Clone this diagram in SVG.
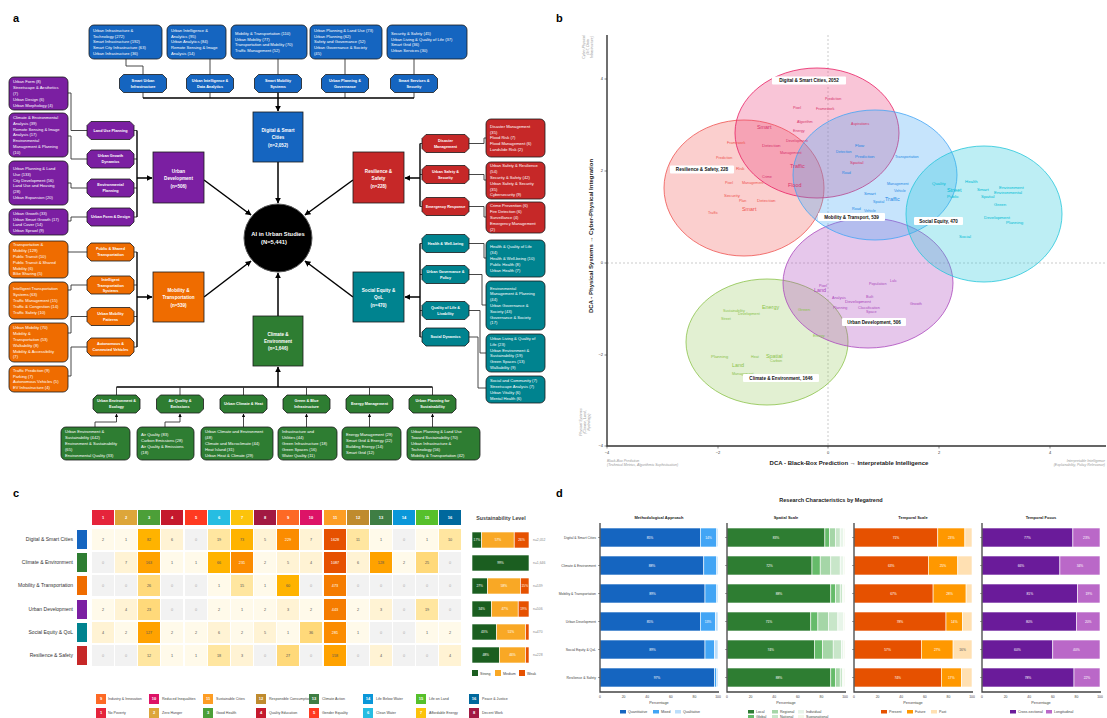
<svg xmlns="http://www.w3.org/2000/svg" width="1107" height="718" viewBox="0 0 1107 718">
<style>
text{font-family:"Liberation Sans",Arial,sans-serif}
.pl{font-size:11px;font-weight:bold;fill:#000}
.bt{font-size:4.1px;fill:#fff}
.ot{font-size:3.8px;font-weight:bold;fill:#fff;text-anchor:middle}
.mt{font-size:4.6px;font-weight:bold;fill:#fff;text-anchor:middle}
.bx{stroke:#1a1a1a;stroke-width:0.8}
.cb{fill:#1565C0}.cp{fill:#7B1FA2}.co{fill:#EF6C00}.cr{fill:#C62828}.ct{fill:#00838F}.cg{fill:#2E7D32}
.cn{fill:none;stroke:#333;stroke-width:0.9}
.bus{fill:none;stroke:#000;stroke-width:1.4}
.ar{fill:none;stroke:#000;stroke-width:1.5;marker-end:url(#ah)}
.as{fill:none;stroke:#333;stroke-width:0.9;marker-end:url(#ah)}
.tk{font-size:4px;fill:#333}
.an{font-size:3.5px;fill:#999;font-style:italic}
.lb{font-size:4.6px;font-weight:bold;fill:#111}
.w1{font-size:3.7px}.w2{font-size:4.4px}.w3{font-size:5.4px}
.dg{fill:#D6336C}.rs{fill:#EF5350}.mb{fill:#1E88E5}.se{fill:#00BCD4}.ud{fill:#AB47BC}.ce{fill:#8BC34A}
.k0{fill:#F2F2F2}.k1{fill:#FFFAEA}.k2{fill:#FFF3D4}.k3{fill:#FFE6A0}.k4{fill:#FFD97A}.k5{fill:#FFB300}.k6{fill:#FFA200}.k7{fill:#FB8C00}.k8{fill:#F57C00}.k9{fill:#E65100}
.cell text{font-size:3.8px;fill:#555;text-anchor:middle}
.cell text.w{fill:#fff}
.cell text.z{fill:#aaa}
.rl{font-size:5px;fill:#333;text-anchor:end}
.hd{font-size:4px;font-weight:bold;fill:#fff;text-anchor:middle}
.pc{font-size:3.3px;fill:#fff;text-anchor:middle}
.lg{font-size:3.6px;fill:#444}
.sb{stroke:#fff;stroke-width:0.6}
.ax{stroke:#444;stroke-width:1.3;fill:none}
.dt{font-size:3.4px;fill:#444;text-anchor:middle}
.st{font-size:4px;font-weight:bold;fill:#222;text-anchor:middle}
.dl{font-size:3.4px;fill:#444;text-anchor:end}
</style>
<defs>
<marker id="ah" viewBox="0 0 10 10" refX="9" refY="5" markerWidth="4" markerHeight="4" orient="auto-start-reverse"><path d="M0,0 L10,5 L0,10 z" fill="#000"/></marker>
<polygon id="oct" points="4,0 43,0 47,4 47,14 43,18 4,18 0,14 0,4"/>
</defs>
<rect width="1107" height="718" fill="#fff"/>

<!-- panel labels -->
<text class="pl" x="13" y="22">a</text>
<text class="pl" x="556" y="22">b</text>
<text class="pl" x="13" y="497">c</text>
<text class="pl" x="556" y="497">d</text>

<!-- ================= PANEL A ================= -->
<g id="connectors">
<!-- top -->
<path class="cn" d="M126,59 V66 H143 V74.5 M210,59 V74.5 M278,59 V74.5 M345,59 V74.5 M414,59 V74.5"/>
<path class="cn" d="M143,92.5 V98 M210,92.5 V98 M345,92.5 V98 M414,92.5 V98"/>
<path class="bus" d="M143,98 H414"/>
<path class="ar" d="M278,92.5 V111"/>
<!-- purple -->
<path class="cn" d="M68,93 H71 V130.5 H87 M68,136 H71 V159 H87 M68,183 H71 V188 H87 M68,221 H71 V217 H87"/>
<path class="cn" d="M134,130.5 H137 M134,159 H137 M134,188 H137 M134,217 H137"/>
<path class="bus" d="M137,130.5 V217"/>
<path class="ar" d="M137,178 H152"/>
<!-- orange -->
<path class="cn" d="M68,252 H87 M68,290 H71 V285 H87 M68,333 H71 V316.5 H87 M68,376 H71 V347 H87"/>
<path class="cn" d="M134,252 H137 M134,285 H137 M134,316.5 H137 M134,347 H137"/>
<path class="bus" d="M137,252 V347"/>
<path class="ar" d="M137,297 H152"/>
<!-- red -->
<path class="cn" d="M469,143.5 H484 V138 H486 M469,174.5 H484 V180 H486 M469,206.5 H484 V217 H486"/>
<path class="cn" d="M422,143.5 H420 M422,174.5 H420 M422,206.5 H420"/>
<path class="bus" d="M420,143.5 V206.5"/>
<path class="ar" d="M420,178 H405"/>
<!-- teal -->
<path class="cn" d="M469,243.5 H484 V258 H486 M469,274.5 H482 V305 H486 M469,310.5 H480 V353 H486 M469,337 H478 V388 H486"/>
<path class="cn" d="M422,243.5 H420 M422,274.5 H420 M422,310.5 H420 M422,337 H420"/>
<path class="bus" d="M420,243.5 V337"/>
<path class="ar" d="M420,297 H405"/>
<!-- green -->
<path class="bus" d="M116.5,387 H432.5"/>
<path class="cn" d="M116.5,395 V387 M180,395 V387 M243.5,395 V387 M306.5,395 V387 M369.5,395 V387 M432.5,395 V387"/>
<path class="ar" d="M278,387 V367"/>
<path class="as" d="M95,427 V422 H116.5 V414"/>
<path class="as" d="M165,427 V422 H180 V414"/>
<path class="as" d="M243.5,427 V414"/>
<path class="as" d="M306.5,427 V414"/>
<path class="as" d="M369.5,427 V414"/>
<path class="as" d="M432.5,427 V414"/>
<!-- main to hub -->
<path class="ar" d="M278,162 V203"/>
<path class="ar" d="M278,316 V273"/>
<path class="ar" d="M204,180 L251,215"/>
<path class="ar" d="M353,180 L305,215"/>
<path class="ar" d="M204,297 L251,261"/>
<path class="ar" d="M353,297 L305,261"/>
</g>

<!-- hub -->
<g id="hub">
<circle cx="278" cy="238" r="34" fill="#000" stroke="#555" stroke-width="1"/>
<text x="278" y="236.3" text-anchor="middle" font-size="5.8" font-weight="bold" fill="#fff">AI in Urban Studies</text>
<text x="274" y="243.5" text-anchor="middle" font-size="5.8" font-weight="bold" fill="#fff">(N=5,441)</text>
</g>

<!-- main category boxes -->
<g id="m-digital"><rect class="bx cb" x="253" y="112" width="50" height="50"/>
<text class="mt" x="278" y="132">Digital &amp; Smart</text><text class="mt" x="278" y="139">Cities</text><text class="mt" x="278" y="146.5">(n=2,052)</text></g>
<g id="m-urban"><rect class="bx cp" x="153" y="152" width="51" height="51"/>
<text class="mt" x="178.5" y="172.5">Urban</text><text class="mt" x="178.5" y="180">Development</text><text class="mt" x="178.5" y="187.5">(n=506)</text></g>
<g id="m-resil"><rect class="bx cr" x="353" y="152" width="51" height="51"/>
<text class="mt" x="378.5" y="172.5">Resilience &amp;</text><text class="mt" x="378.5" y="180">Safety</text><text class="mt" x="378.5" y="187.5">(n=228)</text></g>
<g id="m-mob"><rect class="bx co" x="153" y="272" width="51" height="50"/>
<text class="mt" x="178.5" y="291.5">Mobility &amp;</text><text class="mt" x="178.5" y="299">Transportation</text><text class="mt" x="178.5" y="306.5">(n=539)</text></g>
<g id="m-social"><rect class="bx ct" x="353" y="272" width="51" height="50"/>
<text class="mt" x="378.5" y="291.5">Social Equity &amp;</text><text class="mt" x="378.5" y="299">QoL</text><text class="mt" x="378.5" y="306.5">(n=470)</text></g>
<g id="m-climate"><rect class="bx cg" x="253" y="316" width="50" height="50"/>
<text class="mt" x="278" y="335.5">Climate &amp;</text><text class="mt" x="278" y="342.5">Environment</text><text class="mt" x="278" y="350">(n=1,646)</text></g>

<!-- top blue boxes -->
<g id="t-box1"><rect class="bx cb" x="89" y="25" width="73" height="34" rx="5"/>
<text class="bt" x="93" y="31.8">Urban Infrastructure &amp;<tspan x="93" dy="5.8">Technology (272)</tspan><tspan x="93" dy="5.8">Smart Infrastructure (192)</tspan><tspan x="93" dy="5.8">Smart City Infrastructure (63)</tspan><tspan x="93" dy="5.8">Urban Infrastructure (36)</tspan></text></g>
<g id="t-box2"><rect class="bx cb" x="167" y="25" width="59" height="34" rx="5"/>
<text class="bt" x="171" y="31.8">Urban Intelligence &amp;<tspan x="171" dy="5.8">Analytics (95)</tspan><tspan x="171" dy="5.8">Urban Analytics (84)</tspan><tspan x="171" dy="5.8">Remote Sensing &amp; Image</tspan><tspan x="171" dy="5.8">Analysis (14)</tspan></text></g>
<g id="t-box3"><rect class="bx cb" x="231" y="25" width="76" height="34" rx="5"/>
<text class="bt" x="235" y="34.7">Mobility &amp; Transportation (110)<tspan x="235" dy="5.8">Urban Mobility (77)</tspan><tspan x="235" dy="5.8">Transportation and Mobility (70)</tspan><tspan x="235" dy="5.8">Traffic Management (52)</tspan></text></g>
<g id="t-box4"><rect class="bx cb" x="310" y="25" width="72" height="34" rx="5"/>
<text class="bt" x="314" y="31.8">Urban Planning &amp; Land Use (73)<tspan x="314" dy="5.8">Urban Planning (62)</tspan><tspan x="314" dy="5.8">Safety and Governance (52)</tspan><tspan x="314" dy="5.8">Urban Governance &amp; Society</tspan><tspan x="314" dy="5.8">(45)</tspan></text></g>
<g id="t-box5"><rect class="bx cb" x="387" y="25" width="80" height="34" rx="5"/>
<text class="bt" x="391" y="34.7">Security &amp; Safety (45)<tspan x="391" dy="5.8">Urban Living &amp; Quality of Life (37)</tspan><tspan x="391" dy="5.8">Smart Grid (36)</tspan><tspan x="391" dy="5.8">Urban Services (30)</tspan></text></g>

<!-- top octagons -->
<g id="t-oct1"><use href="#oct" class="bx cb" x="119.5" y="74.5"/><text class="ot" x="143" y="81.9">Smart Urban<tspan x="143" dy="5.8">Infrastructure</tspan></text></g>
<g id="t-oct2"><use href="#oct" class="bx cb" x="186.5" y="74.5"/><text class="ot" x="210" y="81.9">Urban Intelligence &amp;<tspan x="210" dy="5.8">Data Analytics</tspan></text></g>
<g id="t-oct3"><use href="#oct" class="bx cb" x="254.5" y="74.5"/><text class="ot" x="278" y="81.9">Smart Mobility<tspan x="278" dy="5.8">Systems</tspan></text></g>
<g id="t-oct4"><use href="#oct" class="bx cb" x="321.5" y="74.5"/><text class="ot" x="345" y="81.9">Urban Planning &amp;<tspan x="345" dy="5.8">Governance</tspan></text></g>
<g id="t-oct5"><use href="#oct" class="bx cb" x="390.5" y="74.5"/><text class="ot" x="414" y="81.9">Smart Services &amp;<tspan x="414" dy="5.8">Security</tspan></text></g>

<!-- purple boxes -->
<g id="p-box1"><rect class="bx cp" x="9" y="77" width="59" height="33" rx="5"/>
<text class="bt" x="13" y="83.3">Urban Form (8)<tspan x="13" dy="5.8">Streetscape &amp; Aesthetics</tspan><tspan x="13" dy="5.8">(7)</tspan><tspan x="13" dy="5.8">Urban Design (6)</tspan><tspan x="13" dy="5.8">Urban Morphology (4)</tspan></text></g>
<g id="p-box2"><rect class="bx cp" x="9" y="113" width="59" height="44" rx="5"/>
<text class="bt" x="13" y="119">Climate &amp; Environmental<tspan x="13" dy="5.8">Analysis (39)</tspan><tspan x="13" dy="5.8">Remote Sensing &amp; Image</tspan><tspan x="13" dy="5.8">Analysis (17)</tspan><tspan x="13" dy="5.8">Environmental</tspan><tspan x="13" dy="5.8">Management &amp; Planning</tspan><tspan x="13" dy="5.8">(10)</tspan></text></g>
<g id="p-box3"><rect class="bx cp" x="9" y="161" width="59" height="44" rx="5"/>
<text class="bt" x="13" y="169.9">Urban Planning &amp; Land<tspan x="13" dy="5.8">Use (133)</tspan><tspan x="13" dy="5.8">City Development (56)</tspan><tspan x="13" dy="5.8">Land Use and Housing</tspan><tspan x="13" dy="5.8">(28)</tspan><tspan x="13" dy="5.8">Urban Expansion (20)</tspan></text></g>
<g id="p-box4"><rect class="bx cp" x="9" y="209" width="59" height="26" rx="5"/>
<text class="bt" x="13" y="214.7">Urban Growth (33)<tspan x="13" dy="5.8">Urban Smart Growth (17)</tspan><tspan x="13" dy="5.8">Land Cover (14)</tspan><tspan x="13" dy="5.8">Urban Sprawl (9)</tspan></text></g>
<g id="p-oct1"><use href="#oct" class="bx cp" x="87" y="121.5"/><text class="ot" x="110.5" y="131.9">Land Use Planning</text></g>
<g id="p-oct2"><use href="#oct" class="bx cp" x="87" y="150"/><text class="ot" x="110.5" y="157.4">Urban Growth<tspan x="110.5" dy="5.8">Dynamics</tspan></text></g>
<g id="p-oct3"><use href="#oct" class="bx cp" x="87" y="179"/><text class="ot" x="110.5" y="186.4">Environmental<tspan x="110.5" dy="5.8">Planning</tspan></text></g>
<g id="p-oct4"><use href="#oct" class="bx cp" x="87" y="208"/><text class="ot" x="110.5" y="218.4">Urban Form &amp; Design</text></g>

<!-- orange boxes -->
<g id="o-box1"><rect class="bx co" x="9" y="241" width="59" height="37" rx="5"/>
<text class="bt" x="13" y="246.4">Transportation &amp;<tspan x="13" dy="5.8">Mobility (129)</tspan><tspan x="13" dy="5.8">Public Transit (10)</tspan><tspan x="13" dy="5.8">Public Transit &amp; Shared</tspan><tspan x="13" dy="5.8">Mobility (6)</tspan><tspan x="13" dy="5.8">Bike Sharing (5)</tspan></text></g>
<g id="o-box2"><rect class="bx co" x="9" y="282" width="59" height="37" rx="5"/>
<text class="bt" x="13" y="290.3">Intelligent Transportation<tspan x="13" dy="5.8">Systems (63)</tspan><tspan x="13" dy="5.8">Traffic Management (15)</tspan><tspan x="13" dy="5.8">Traffic &amp; Congestion (14)</tspan><tspan x="13" dy="5.8">Traffic Safety (10)</tspan></text></g>
<g id="o-box3"><rect class="bx co" x="9" y="323" width="59" height="39" rx="5"/>
<text class="bt" x="13" y="329.4">Urban Mobility (70)<tspan x="13" dy="5.8">Mobility &amp;</tspan><tspan x="13" dy="5.8">Transportation (53)</tspan><tspan x="13" dy="5.8">Walkability (8)</tspan><tspan x="13" dy="5.8">Mobility &amp; Accessibility</tspan><tspan x="13" dy="5.8">(7)</tspan></text></g>
<g id="o-box4"><rect class="bx co" x="9" y="366" width="59" height="26" rx="5"/>
<text class="bt" x="13" y="371.7">Traffic Prediction (9)<tspan x="13" dy="5.8">Parking (7)</tspan><tspan x="13" dy="5.8">Autonomous Vehicles (5)</tspan><tspan x="13" dy="5.8">EV Infrastructure (4)</tspan></text></g>
<g id="o-oct1"><use href="#oct" class="bx co" x="87" y="243"/><text class="ot" x="110.5" y="250.4">Public &amp; Shared<tspan x="110.5" dy="5.8">Transportation</tspan></text></g>
<g id="o-oct2"><use href="#oct" class="bx co" x="87" y="276"/><text class="ot" x="110.5" y="281.3" font-size="3.6">Intelligent<tspan x="110.5" dy="5.3">Transportation</tspan><tspan x="110.5" dy="5.3">Systems</tspan></text></g>
<g id="o-oct3"><use href="#oct" class="bx co" x="87" y="307.5"/><text class="ot" x="110.5" y="314.9">Urban Mobility<tspan x="110.5" dy="5.8">Patterns</tspan></text></g>
<g id="o-oct4"><use href="#oct" class="bx co" x="87" y="338"/><text class="ot" x="110.5" y="345.4">Autonomous &amp;<tspan x="110.5" dy="5.8">Connected Vehicles</tspan></text></g>

<!-- red -->
<g id="r-oct1"><use href="#oct" class="bx cr" x="422" y="134.5"/><text class="ot" x="445.5" y="141.9">Disaster<tspan x="445.5" dy="5.8">Management</tspan></text></g>
<g id="r-oct2"><use href="#oct" class="bx cr" x="422" y="165.5"/><text class="ot" x="445.5" y="172.9">Urban Safety &amp;<tspan x="445.5" dy="5.8">Security</tspan></text></g>
<g id="r-oct3"><use href="#oct" class="bx cr" x="422" y="197.5"/><text class="ot" x="445.5" y="207.9">Emergency Response</text></g>
<g id="r-box1"><rect class="bx cr" x="486" y="119" width="59" height="38" rx="5"/>
<text class="bt" x="490" y="127.8">Disaster Management<tspan x="490" dy="5.8">(35)</tspan><tspan x="490" dy="5.8">Flood Risk (7)</tspan><tspan x="490" dy="5.8">Flood Management (6)</tspan><tspan x="490" dy="5.8">Landslide Risk (2)</tspan></text></g>
<g id="r-box2"><rect class="bx cr" x="486" y="162" width="59" height="37" rx="5"/>
<text class="bt" x="490" y="167.4">Urban Safety &amp; Resilience<tspan x="490" dy="5.8">(54)</tspan><tspan x="490" dy="5.8">Security &amp; Safety (42)</tspan><tspan x="490" dy="5.8">Urban Safety &amp; Security</tspan><tspan x="490" dy="5.8">(35)</tspan><tspan x="490" dy="5.8">Cybersecurity (9)</tspan></text></g>
<g id="r-box3"><rect class="bx cr" x="486" y="202" width="59" height="31" rx="5"/>
<text class="bt" x="490" y="207.3">Crime Prevention (6)<tspan x="490" dy="5.8">Fire Detection (6)</tspan><tspan x="490" dy="5.8">Surveillance (4)</tspan><tspan x="490" dy="5.8">Emergency Management</tspan><tspan x="490" dy="5.8">(2)</tspan></text></g>

<!-- teal -->
<g id="s-oct1"><use href="#oct" class="bx ct" x="422" y="234.5"/><text class="ot" x="445.5" y="244.9">Health &amp; Well-being</text></g>
<g id="s-oct2"><use href="#oct" class="bx ct" x="422" y="265.5"/><text class="ot" x="445.5" y="272.9">Urban Governance &amp;<tspan x="445.5" dy="5.8">Policy</tspan></text></g>
<g id="s-oct3"><use href="#oct" class="bx ct" x="422" y="301.5"/><text class="ot" x="445.5" y="308.9">Quality of Life &amp;<tspan x="445.5" dy="5.8">Livability</tspan></text></g>
<g id="s-oct4"><use href="#oct" class="bx ct" x="422" y="328"/><text class="ot" x="445.5" y="338.4">Social Dynamics</text></g>
<g id="s-box1"><rect class="bx ct" x="486" y="240" width="59" height="37" rx="5"/>
<text class="bt" x="490" y="248.3">Health &amp; Quality of Life<tspan x="490" dy="5.8">(34)</tspan><tspan x="490" dy="5.8">Health &amp; Well-being (10)</tspan><tspan x="490" dy="5.8">Public Health (8)</tspan><tspan x="490" dy="5.8">Urban Health (7)</tspan></text></g>
<g id="s-box2"><rect class="bx ct" x="486" y="281" width="59" height="49" rx="5"/>
<text class="bt" x="490" y="289.5">Environmental<tspan x="490" dy="5.8">Management &amp; Planning</tspan><tspan x="490" dy="5.8">(44)</tspan><tspan x="490" dy="5.8">Urban Governance &amp;</tspan><tspan x="490" dy="5.8">Society (43)</tspan><tspan x="490" dy="5.8">Governance &amp; Society</tspan><tspan x="490" dy="5.8">(17)</tspan></text></g>
<g id="s-box3"><rect class="bx ct" x="486" y="334" width="59" height="38" rx="5"/>
<text class="bt" x="490" y="339.9">Urban Living &amp; Quality of<tspan x="490" dy="5.8">Life (23)</tspan><tspan x="490" dy="5.8">Urban Environment &amp;</tspan><tspan x="490" dy="5.8">Sustainability (19)</tspan><tspan x="490" dy="5.8">Green Spaces (13)</tspan><tspan x="490" dy="5.8">Walkability (9)</tspan></text></g>
<g id="s-box4"><rect class="bx ct" x="486" y="376" width="59" height="27" rx="5"/>
<text class="bt" x="490" y="382.2">Social and Community (7)<tspan x="490" dy="5.8">Streetscape Analysis (7)</tspan><tspan x="490" dy="5.8">Urban Vitality (6)</tspan><tspan x="490" dy="5.8">Mental Health (6)</tspan></text></g>

<!-- green -->
<g id="g-oct1"><use href="#oct" class="bx cg" x="93" y="395"/><text class="ot" x="116.5" y="402.4">Urban Environment &amp;<tspan x="116.5" dy="5.8">Ecology</tspan></text></g>
<g id="g-oct2"><use href="#oct" class="bx cg" x="156.5" y="395"/><text class="ot" x="180" y="402.4">Air Quality &amp;<tspan x="180" dy="5.8">Emissions</tspan></text></g>
<g id="g-oct3"><use href="#oct" class="bx cg" x="220" y="395"/><text class="ot" x="243.5" y="405.4">Urban Climate &amp; Heat</text></g>
<g id="g-oct4"><use href="#oct" class="bx cg" x="283" y="395"/><text class="ot" x="306.5" y="402.4">Green &amp; Blue<tspan x="306.5" dy="5.8">Infrastructure</tspan></text></g>
<g id="g-oct5"><use href="#oct" class="bx cg" x="346" y="395"/><text class="ot" x="369.5" y="405.4">Energy Management</text></g>
<g id="g-oct6"><use href="#oct" class="bx cg" x="409" y="395"/><text class="ot" x="432.5" y="402.4">Urban Planning for<tspan x="432.5" dy="5.8">Sustainability</tspan></text></g>
<g id="g-box1"><rect class="bx cg" x="61" y="427" width="69" height="33" rx="5"/>
<text class="bt" x="65" y="433.3">Urban Environment &amp;<tspan x="65" dy="5.8">Sustainability (442)</tspan><tspan x="65" dy="5.8">Environment &amp; Sustainability</tspan><tspan x="65" dy="5.8">(65)</tspan><tspan x="65" dy="5.8">Environmental Quality (33)</tspan></text></g>
<g id="g-box2"><rect class="bx cg" x="137" y="427" width="57" height="33" rx="5"/>
<text class="bt" x="141" y="436.2">Air Quality (83)<tspan x="141" dy="5.8">Carbon Emissions (28)</tspan><tspan x="141" dy="5.8">Air Quality &amp; Emissions</tspan><tspan x="141" dy="5.8">(18)</tspan></text></g>
<g id="g-box3"><rect class="bx cg" x="201" y="427" width="72" height="33" rx="5"/>
<text class="bt" x="205" y="433.3">Urban Climate and Environment<tspan x="205" dy="5.8">(48)</tspan><tspan x="205" dy="5.8">Climate and Microclimate (44)</tspan><tspan x="205" dy="5.8">Heat Island (31)</tspan><tspan x="205" dy="5.8">Urban Heat &amp; Climate (29)</tspan></text></g>
<g id="g-box4"><rect class="bx cg" x="278" y="427" width="59" height="33" rx="5"/>
<text class="bt" x="282" y="433.3">Infrastructure and<tspan x="282" dy="5.8">Utilities (44)</tspan><tspan x="282" dy="5.8">Green Infrastructure (18)</tspan><tspan x="282" dy="5.8">Green Spaces (16)</tspan><tspan x="282" dy="5.8">Water Quality (11)</tspan></text></g>
<g id="g-box5"><rect class="bx cg" x="342" y="427" width="59" height="33" rx="5"/>
<text class="bt" x="346" y="436.2">Energy Management (29)<tspan x="346" dy="5.8">Smart Grid &amp; Energy (22)</tspan><tspan x="346" dy="5.8">Building Energy (14)</tspan><tspan x="346" dy="5.8">Smart Grid (12)</tspan></text></g>
<g id="g-box6"><rect class="bx cg" x="407" y="427" width="73" height="33" rx="5"/>
<text class="bt" x="411" y="433.3">Urban Planning &amp; Land Use<tspan x="411" dy="5.8">Toward Sustainability (70)</tspan><tspan x="411" dy="5.8">Urban Infrastructure &amp;</tspan><tspan x="411" dy="5.8">Technology (56)</tspan><tspan x="411" dy="5.8">Mobility &amp; Transportation (42)</tspan></text></g>

<!-- ================= PANEL B ================= -->
<g id="panel-b">
<line x1="828" y1="35" x2="828" y2="446" stroke="#aaa" stroke-width="0.6" stroke-dasharray="2,2"/>
<line x1="607" y1="263" x2="1106" y2="263" stroke="#aaa" stroke-width="0.6" stroke-dasharray="2,2"/>
<ellipse cx="767" cy="342" rx="81" ry="63" fill="#8BC34A" fill-opacity="0.25" stroke="#8BC34A" stroke-width="0.8"/>
<ellipse cx="868" cy="283" rx="85" ry="65" fill="#AB47BC" fill-opacity="0.3" stroke="#AB47BC" stroke-width="0.8"/>
<ellipse cx="744" cy="188" rx="80" ry="68" fill="#EF5350" fill-opacity="0.28" stroke="#EF5350" stroke-width="0.8"/>
<ellipse cx="817" cy="133" rx="82" ry="65" fill="#EC407A" fill-opacity="0.3" stroke="#E91E63" stroke-width="0.8"/>
<ellipse cx="875" cy="175" rx="82" ry="65" fill="#42A5F5" fill-opacity="0.3" stroke="#42A5F5" stroke-width="0.8"/>
<ellipse cx="984" cy="214" rx="78" ry="68" fill="#26C6DA" fill-opacity="0.3" stroke="#26C6DA" stroke-width="0.8"/>

<g class="dg">
<text class="w1" x="825" y="100">Prediction</text><text class="w1" x="793" y="109">Pixel</text><text class="w1" x="816" y="110">Framework</text>
<text class="w1" x="797" y="123">Algorithm</text><text class="w3" x="757" y="129">Smart</text><text class="w1" x="793" y="132">Energy</text>
<text class="w1" x="851" y="125">Aspirations</text><text class="w1" x="786" y="142">Development</text><text class="w2" x="762" y="147">Detection</text>
<text class="w1" x="780" y="154">Management</text><text class="w2" x="850" y="164">Spatial</text><text class="w3" x="790" y="168">Traffic</text>
<text class="w1" x="762" y="178">Crime</text><text class="w3" x="788" y="187">Flood</text>
</g>
<g class="rs">
<text class="w1" x="727" y="144">Framework</text><text class="w1" x="716" y="159">Prediction</text><text class="w2" x="736" y="170">Risk</text>
<text class="w1" x="725" y="184">Pixel</text><text class="w1" x="742" y="184">Management</text><text class="w2" x="724" y="197">Security</text>
<text class="w1" x="739" y="202">Plan</text><text class="w2" x="757" y="202">Detection</text><text class="w3" x="742" y="211">Smart</text>
<text class="w1" x="708" y="214">Traffic</text>
</g>
<g class="mb">
<text class="w2" x="855" y="147">Flow</text><text class="w1" x="836" y="153">Detection</text><text class="w2" x="855" y="158">Prediction</text>
<text class="w1" x="842" y="174">Road</text><text class="w1" x="895" y="158">Transportation</text><text class="w1" x="887" y="185">Management</text>
<text class="w1" x="894" y="192">Vehicle</text><text class="w2" x="864" y="195">Smart</text><text class="w1" x="873" y="203">Spatial</text>
<text class="w3" x="885" y="201">Traffic</text><text class="w1" x="852" y="210">Road</text><text class="w1" x="864" y="212">Vehicle</text>
</g>
<g class="se">
<text class="w2" x="932" y="185">Quality</text><text class="w2" x="965" y="183">Health</text><text class="w3" x="947" y="192">Street</text>
<text class="w2" x="947" y="198">Public</text><text class="w2" x="977" y="191">Smart</text><text class="w2" x="999" y="189">Environment</text>
<text class="w2" x="994" y="194">Environmental</text><text class="w2" x="981" y="198">Spatial</text><text class="w2" x="994" y="206">Green</text>
<text class="w2" x="984" y="219">Development</text><text class="w2" x="1006" y="224">Planning</text><text class="w2" x="959" y="238">Social</text>
</g>
<g class="ud">
<text class="w1" x="819" y="287">Pixel</text><text class="w3" x="814" y="292">Land</text><text class="w1" x="869" y="285">Population</text>
<text class="w1" x="890" y="282">Lulc</text><text class="w1" x="866" y="298">Built</text><text class="w1" x="832" y="299">Analysis</text>
<text class="w2" x="845" y="303">Development</text><text class="w1" x="833" y="309">Planning</text><text class="w1" x="858" y="309">Classification</text>
<text class="w1" x="866" y="313">Space</text><text class="w1" x="910" y="305">Growth</text>
</g>
<g class="ce">
<text class="w1" x="723" y="312">Sustainability</text><text class="w3" x="762" y="309">Energy</text><text class="w1" x="738" y="315">Development</text>
<text class="w2" x="798" y="311">Green</text><text class="w1" x="721" y="320">Street</text><text class="w1" x="813" y="337">Energy</text>
<text class="w2" x="711" y="358">Planning</text><text class="w1" x="751" y="358">Heat</text><text class="w3" x="766" y="358">Spatial</text>
<text class="w1" x="770" y="362">Carbon</text><text class="w3" x="732" y="367">Land</text><text class="w1" x="732" y="375">Management</text>
</g>

<g id="b-labels">
<rect x="772" y="76.5" width="74" height="8" fill="#fff" rx="1"/><text class="lb" x="809" y="82.3" text-anchor="middle">Digital &amp; Smart Cities, 2052</text>
<rect x="670" y="165.5" width="64" height="8" fill="#fff" rx="1"/><text class="lb" x="702" y="171.3" text-anchor="middle">Resilience &amp; Safety, 228</text>
<rect x="818" y="213" width="67" height="8" fill="#fff" rx="1"/><text class="lb" x="851.5" y="218.8" text-anchor="middle">Mobility &amp; Transport, 539</text>
<rect x="914" y="217" width="49" height="8" fill="#fff" rx="1"/><text class="lb" x="938.5" y="222.8" text-anchor="middle">Social Equity, 470</text>
<rect x="842" y="318" width="64" height="8" fill="#fff" rx="1"/><text class="lb" x="874" y="323.8" text-anchor="middle">Urban Development, 506</text>
<rect x="743" y="374" width="76" height="8" fill="#fff" rx="1"/><text class="lb" x="781" y="379.8" text-anchor="middle">Climate &amp; Environment, 1646</text>
</g>

<!-- axes -->
<path d="M607,35 V446 H1106" fill="none" stroke="#333" stroke-width="1.4"/>
<path d="M604.5,79 H607 M604.5,171 H607 M604.5,263 H607 M604.5,355 H607 M604.5,446 H607 M607,446 V448.5 M718,446 V448.5 M828,446 V448.5 M939,446 V448.5 M1050,446 V448.5" stroke="#333" stroke-width="0.6"/>
<g class="tk" text-anchor="end">
<text x="603" y="80.4">4</text><text x="603" y="172.4">2</text><text x="603" y="264.4">0</text><text x="603" y="356.4">−2</text><text x="603" y="447.4">−4</text>
</g>
<g class="tk" text-anchor="middle">
<text x="607" y="453.5">−4</text><text x="718" y="453.5">−2</text><text x="828" y="453.5">0</text><text x="939" y="453.5">2</text><text x="1050" y="453.5">4</text>
</g>
<text x="849" y="465" text-anchor="middle" font-size="6" font-weight="bold" fill="#222">DCA - Black-Box Prediction  →  Interpretable Intelligence</text>
<text transform="translate(592.5,236) rotate(-90)" text-anchor="middle" font-size="6" font-weight="bold" fill="#222">DCA - Physical Systems  →  Cyber-Physical Integration</text>
<text class="an" x="607" y="461.5">Black-Box Prediction<tspan x="607" dy="4.6">(Technical Metrics, Algorithmic Sophistication)</tspan></text>
<text class="an" x="1105" y="461.5" text-anchor="end">Interpretable Intelligence<tspan x="1105" dy="4.6">(Explainability, Policy Relevance)</tspan></text>
<text class="an" transform="translate(585,47) rotate(-90)" text-anchor="middle">Cyber-Physical<tspan x="0" dy="4">(IoT, Data</tspan><tspan x="0" dy="4">Infrastructure)</tspan></text>
<text class="an" transform="translate(582,422) rotate(-90)" text-anchor="middle">Physical Systems<tspan x="0" dy="4">(Climate, Land,</tspan><tspan x="0" dy="4">Hydrology)</tspan></text>
</g>

<!-- ================= PANEL C ================= -->
<g id="panel-c">
<g id="c-header">
<rect x="92" y="510" width="22" height="15" fill="#E5243B"/><rect x="115" y="510" width="22" height="15" fill="#DDA63A"/><rect x="138" y="510" width="22" height="15" fill="#4C9F38"/><rect x="161" y="510" width="22" height="15" fill="#C5192D"/>
<rect x="185" y="510" width="22" height="15" fill="#FF3A21"/><rect x="208" y="510" width="22" height="15" fill="#26BDE2"/><rect x="231" y="510" width="22" height="15" fill="#FCC30B"/><rect x="254" y="510" width="22" height="15" fill="#A21942"/>
<rect x="277" y="510" width="22" height="15" fill="#FD6925"/><rect x="300" y="510" width="22" height="15" fill="#DD1367"/><rect x="324" y="510" width="22" height="15" fill="#FD9D24"/><rect x="347" y="510" width="22" height="15" fill="#BF8B2E"/>
<rect x="370" y="510" width="22" height="15" fill="#3F7E44"/><rect x="393" y="510" width="22" height="15" fill="#0A97D9"/><rect x="416" y="510" width="22" height="15" fill="#56C02B"/><rect x="439" y="510" width="22" height="15" fill="#00689D"/>
<text class="hd" x="103" y="519">1</text><text class="hd" x="126" y="519">2</text><text class="hd" x="149" y="519">3</text><text class="hd" x="172" y="519">4</text>
<text class="hd" x="196" y="519">5</text><text class="hd" x="219" y="519">6</text><text class="hd" x="242" y="519">7</text><text class="hd" x="265" y="519">8</text>
<text class="hd" x="288" y="519">9</text><text class="hd" x="311" y="519">10</text><text class="hd" x="335" y="519">11</text><text class="hd" x="358" y="519">12</text>
<text class="hd" x="381" y="519">13</text><text class="hd" x="404" y="519">14</text><text class="hd" x="427" y="519">15</text><text class="hd" x="450" y="519">16</text>
</g>

<text class="rl" x="73" y="541.3">Digital &amp; Smart Cities</text>
<text class="rl" x="73" y="564.3">Climate &amp; Environment</text>
<text class="rl" x="73" y="587.3">Mobility &amp; Transportation</text>
<text class="rl" x="73" y="611.3">Urban Development</text>
<text class="rl" x="73" y="634.3">Social Equity &amp; QoL</text>
<text class="rl" x="73" y="657.3">Resilience &amp; Safety</text>
<rect x="77" y="530" width="10" height="19" fill="#1565C0"/>
<rect x="77" y="553" width="10" height="19" fill="#2E7D32"/>
<rect x="77" y="576" width="10" height="19" fill="#EF6C00"/>
<rect x="77" y="600" width="10" height="19" fill="#7B1FA2"/>
<rect x="77" y="623" width="10" height="19" fill="#00838F"/>
<rect x="77" y="646" width="10" height="19" fill="#C62828"/>

<g class="cell" transform="translate(0,529)">
<rect class="k1" x="92" width="22" height="21"/><rect class="k1" x="115" width="22" height="21"/><rect class="k5" x="138" width="22" height="21"/><rect class="k2" x="161" width="22" height="21"/>
<rect class="k0" x="185" width="22" height="21"/><rect class="k3" x="208" width="22" height="21"/><rect class="k5" x="231" width="22" height="21"/><rect class="k2" x="254" width="22" height="21"/>
<rect class="k7" x="277" width="22" height="21"/><rect class="k2" x="300" width="22" height="21"/><rect class="k9" x="324" width="22" height="21"/><rect class="k3" x="347" width="22" height="21"/>
<rect class="k1" x="370" width="22" height="21"/><rect class="k0" x="393" width="22" height="21"/><rect class="k1" x="416" width="22" height="21"/><rect class="k3" x="439" width="22" height="21"/>
<text x="103" y="11.8">2</text><text x="126" y="11.8">1</text><text x="149" y="11.8">82</text><text x="172" y="11.8">6</text><text class="z" x="196" y="11.8">0</text><text x="219" y="11.8">19</text><text x="242" y="11.8">73</text><text x="265" y="11.8">5</text>
<text class="w" x="288" y="11.8">229</text><text x="311" y="11.8">7</text><text class="w" x="335" y="11.8">1628</text><text x="358" y="11.8">11</text><text x="381" y="11.8">1</text><text class="z" x="404" y="11.8">0</text><text x="427" y="11.8">1</text><text x="450" y="11.8">10</text>
</g>
<g class="cell" transform="translate(0,552)">
<rect class="k0" x="92" width="22" height="21"/><rect class="k2" x="115" width="22" height="21"/><rect class="k6" x="138" width="22" height="21"/><rect class="k1" x="161" width="22" height="21"/>
<rect class="k1" x="185" width="22" height="21"/><rect class="k5" x="208" width="22" height="21"/><rect class="k7" x="231" width="22" height="21"/><rect class="k1" x="254" width="22" height="21"/>
<rect class="k2" x="277" width="22" height="21"/><rect class="k2" x="300" width="22" height="21"/><rect class="k9" x="324" width="22" height="21"/><rect class="k2" x="347" width="22" height="21"/>
<rect class="k6" x="370" width="22" height="21"/><rect class="k1" x="393" width="22" height="21"/><rect class="k4" x="416" width="22" height="21"/><rect class="k0" x="439" width="22" height="21"/>
<text class="z" x="103" y="11.8">0</text><text x="126" y="11.8">7</text><text x="149" y="11.8">163</text><text x="172" y="11.8">1</text><text x="196" y="11.8">1</text><text x="219" y="11.8">66</text><text class="w" x="242" y="11.8">231</text><text x="265" y="11.8">2</text>
<text x="288" y="11.8">5</text><text x="311" y="11.8">4</text><text class="w" x="335" y="11.8">1087</text><text x="358" y="11.8">6</text><text x="381" y="11.8">128</text><text x="404" y="11.8">2</text><text x="427" y="11.8">25</text><text class="z" x="450" y="11.8">0</text>
</g>
<g class="cell" transform="translate(0,575)">
<rect class="k0" x="92" width="22" height="21"/><rect class="k0" x="115" width="22" height="21"/><rect class="k4" x="138" width="22" height="21"/><rect class="k0" x="161" width="22" height="21"/>
<rect class="k0" x="185" width="22" height="21"/><rect class="k1" x="208" width="22" height="21"/><rect class="k3" x="231" width="22" height="21"/><rect class="k1" x="254" width="22" height="21"/>
<rect class="k5" x="277" width="22" height="21"/><rect class="k0" x="300" width="22" height="21"/><rect class="k8" x="324" width="22" height="21"/><rect class="k0" x="347" width="22" height="21"/>
<rect class="k0" x="370" width="22" height="21"/><rect class="k0" x="393" width="22" height="21"/><rect class="k0" x="416" width="22" height="21"/><rect class="k0" x="439" width="22" height="21"/>
<text class="z" x="103" y="11.8">0</text><text class="z" x="126" y="11.8">0</text><text x="149" y="11.8">26</text><text class="z" x="172" y="11.8">0</text><text class="z" x="196" y="11.8">0</text><text x="219" y="11.8">1</text><text x="242" y="11.8">15</text><text x="265" y="11.8">1</text>
<text x="288" y="11.8">60</text><text class="z" x="311" y="11.8">0</text><text class="w" x="335" y="11.8">473</text><text class="z" x="358" y="11.8">0</text><text class="z" x="381" y="11.8">0</text><text class="z" x="404" y="11.8">0</text><text class="z" x="427" y="11.8">0</text><text class="z" x="450" y="11.8">0</text>
</g>
<g class="cell" transform="translate(0,599)">
<rect class="k1" x="92" width="22" height="21"/><rect class="k2" x="115" width="22" height="21"/><rect class="k4" x="138" width="22" height="21"/><rect class="k0" x="161" width="22" height="21"/>
<rect class="k0" x="185" width="22" height="21"/><rect class="k1" x="208" width="22" height="21"/><rect class="k1" x="231" width="22" height="21"/><rect class="k1" x="254" width="22" height="21"/>
<rect class="k2" x="277" width="22" height="21"/><rect class="k1" x="300" width="22" height="21"/><rect class="k8" x="324" width="22" height="21"/><rect class="k1" x="347" width="22" height="21"/>
<rect class="k2" x="370" width="22" height="21"/><rect class="k0" x="393" width="22" height="21"/><rect class="k3" x="416" width="22" height="21"/><rect class="k0" x="439" width="22" height="21"/>
<text x="103" y="11.8">2</text><text x="126" y="11.8">4</text><text x="149" y="11.8">23</text><text class="z" x="172" y="11.8">0</text><text class="z" x="196" y="11.8">0</text><text x="219" y="11.8">2</text><text x="242" y="11.8">1</text><text x="265" y="11.8">2</text>
<text x="288" y="11.8">3</text><text x="311" y="11.8">2</text><text class="w" x="335" y="11.8">443</text><text x="358" y="11.8">2</text><text x="381" y="11.8">3</text><text class="z" x="404" y="11.8">0</text><text x="427" y="11.8">19</text><text class="z" x="450" y="11.8">0</text>
</g>
<g class="cell" transform="translate(0,622)">
<rect class="k2" x="92" width="22" height="21"/><rect class="k1" x="115" width="22" height="21"/><rect class="k6" x="138" width="22" height="21"/><rect class="k1" x="161" width="22" height="21"/>
<rect class="k1" x="185" width="22" height="21"/><rect class="k2" x="208" width="22" height="21"/><rect class="k1" x="231" width="22" height="21"/><rect class="k2" x="254" width="22" height="21"/>
<rect class="k1" x="277" width="22" height="21"/><rect class="k4" x="300" width="22" height="21"/><rect class="k7" x="324" width="22" height="21"/><rect class="k1" x="347" width="22" height="21"/>
<rect class="k0" x="370" width="22" height="21"/><rect class="k0" x="393" width="22" height="21"/><rect class="k1" x="416" width="22" height="21"/><rect class="k1" x="439" width="22" height="21"/>
<text x="103" y="11.8">4</text><text x="126" y="11.8">2</text><text x="149" y="11.8">127</text><text x="172" y="11.8">2</text><text x="196" y="11.8">2</text><text x="219" y="11.8">6</text><text x="242" y="11.8">2</text><text x="265" y="11.8">5</text>
<text x="288" y="11.8">1</text><text x="311" y="11.8">36</text><text class="w" x="335" y="11.8">281</text><text x="358" y="11.8">1</text><text class="z" x="381" y="11.8">0</text><text class="z" x="404" y="11.8">0</text><text x="427" y="11.8">1</text><text x="450" y="11.8">2</text>
</g>
<g class="cell" transform="translate(0,645)">
<rect class="k0" x="92" width="22" height="21"/><rect class="k0" x="115" width="22" height="21"/><rect class="k3" x="138" width="22" height="21"/><rect class="k1" x="161" width="22" height="21"/>
<rect class="k1" x="185" width="22" height="21"/><rect class="k3" x="208" width="22" height="21"/><rect class="k2" x="231" width="22" height="21"/><rect class="k0" x="254" width="22" height="21"/>
<rect class="k4" x="277" width="22" height="21"/><rect class="k0" x="300" width="22" height="21"/><rect class="k6" x="324" width="22" height="21"/><rect class="k0" x="347" width="22" height="21"/>
<rect class="k2" x="370" width="22" height="21"/><rect class="k0" x="393" width="22" height="21"/><rect class="k0" x="416" width="22" height="21"/><rect class="k2" x="439" width="22" height="21"/>
<text class="z" x="103" y="11.8">0</text><text class="z" x="126" y="11.8">0</text><text x="149" y="11.8">12</text><text x="172" y="11.8">1</text><text x="196" y="11.8">1</text><text x="219" y="11.8">18</text><text x="242" y="11.8">3</text><text class="z" x="265" y="11.8">0</text>
<text x="288" y="11.8">27</text><text class="z" x="311" y="11.8">0</text><text x="335" y="11.8">158</text><text class="z" x="358" y="11.8">0</text><text x="381" y="11.8">4</text><text class="z" x="404" y="11.8">0</text><text class="z" x="427" y="11.8">0</text><text x="450" y="11.8">4</text>
</g>

<!-- sustainability level -->
<text x="501" y="520" text-anchor="middle" font-size="5.3" font-weight="bold" fill="#444">Sustainability Level</text>
<g class="sb">
<rect x="472" y="532" width="9.7" height="16" fill="#1B5E20"/><rect x="481.7" y="532" width="32.5" height="16" fill="#F9A825"/><rect x="514.2" y="532" width="14.8" height="16" fill="#E65100"/>
<rect x="472" y="555" width="57" height="16" fill="#1B5E20"/>
<rect x="472" y="578" width="15.4" height="16" fill="#1B5E20"/><rect x="487.4" y="578" width="33.1" height="16" fill="#F9A825"/><rect x="520.5" y="578" width="8.5" height="16" fill="#E65100"/>
<rect x="472" y="601" width="19.4" height="16" fill="#1B5E20"/><rect x="491.4" y="601" width="26.8" height="16" fill="#F9A825"/><rect x="518.2" y="601" width="10.8" height="16" fill="#E65100"/>
<rect x="472" y="624" width="24.5" height="16" fill="#1B5E20"/><rect x="496.5" y="624" width="29.1" height="16" fill="#F9A825"/><rect x="525.6" y="624" width="3.4" height="16" fill="#E65100"/>
<rect x="472" y="647" width="27.4" height="16" fill="#1B5E20"/><rect x="499.4" y="647" width="26.2" height="16" fill="#F9A825"/><rect x="525.6" y="647" width="3.4" height="16" fill="#E65100"/>
</g>
<g class="pc">
<text x="476.9" y="541.2">17%</text><text x="498" y="541.2">57%</text><text x="521.6" y="541.2">26%</text>
<text x="500.5" y="564.2">99%</text>
<text x="479.7" y="587.2">27%</text><text x="504" y="587.2">58%</text><text x="524.8" y="587.2">15%</text>
<text x="481.7" y="610.2">34%</text><text x="504.8" y="610.2">47%</text><text x="523.6" y="610.2">19%</text>
<text x="484.3" y="633.2">43%</text><text x="511" y="633.2">51%</text>
<text x="485.7" y="656.2">48%</text><text x="512.5" y="656.2">46%</text>
</g>
<g font-size="3.4" fill="#888">
<text x="533" y="541.2">n=2,052</text><text x="533" y="564.2">n=1,646</text><text x="533" y="587.2">n=539</text>
<text x="533" y="610.2">n=506</text><text x="533" y="633.2">n=470</text><text x="533" y="656.2">n=228</text>
</g>
<rect x="472" y="670" width="6" height="6" fill="#1B5E20"/><text class="lg" x="480" y="674.5">Strong</text>
<rect x="495" y="670" width="6" height="6" fill="#F9A825"/><text class="lg" x="503" y="674.5">Medium</text>
<rect x="519" y="670" width="6" height="6" fill="#E65100"/><text class="lg" x="527" y="674.5">Weak</text>

<!-- SDG legend -->
<g id="sdg-legend">
<rect x="96" y="694" width="10" height="10" fill="#FD6925"/><text class="hd" x="101" y="700.4" font-size="3.5">9</text><text class="lg" x="108" y="700.3">Industry &amp; Innovation</text>
<rect x="149" y="694" width="10" height="10" fill="#DD1367"/><text class="hd" x="154" y="700.4" font-size="3.5">10</text><text class="lg" x="162" y="700.3">Reduced Inequalities</text>
<rect x="203" y="694" width="10" height="10" fill="#FD9D24"/><text class="hd" x="208" y="700.4" font-size="3.5">11</text><text class="lg" x="216" y="700.3">Sustainable Cities</text>
<rect x="256" y="694" width="10" height="10" fill="#BF8B2E"/><text class="hd" x="261" y="700.4" font-size="3.5">12</text><text class="lg" x="269" y="700.3">Responsible Consumption</text>
<rect x="309" y="694" width="10" height="10" fill="#3F7E44"/><text class="hd" x="314" y="700.4" font-size="3.5">13</text><text class="lg" x="322" y="700.3">Climate Action</text>
<rect x="363" y="694" width="10" height="10" fill="#0A97D9"/><text class="hd" x="368" y="700.4" font-size="3.5">14</text><text class="lg" x="376" y="700.3">Life Below Water</text>
<rect x="416" y="694" width="10" height="10" fill="#56C02B"/><text class="hd" x="421" y="700.4" font-size="3.5">15</text><text class="lg" x="429" y="700.3">Life on Land</text>
<rect x="469" y="694" width="10" height="10" fill="#00689D"/><text class="hd" x="474" y="700.4" font-size="3.5">16</text><text class="lg" x="482" y="700.3">Peace &amp; Justice</text>
<rect x="96" y="708" width="10" height="10" fill="#E5243B"/><text class="hd" x="101" y="714.4" font-size="3.5">1</text><text class="lg" x="108" y="714.3">No Poverty</text>
<rect x="149" y="708" width="10" height="10" fill="#DDA63A"/><text class="hd" x="154" y="714.4" font-size="3.5">2</text><text class="lg" x="162" y="714.3">Zero Hunger</text>
<rect x="203" y="708" width="10" height="10" fill="#4C9F38"/><text class="hd" x="208" y="714.4" font-size="3.5">3</text><text class="lg" x="216" y="714.3">Good Health</text>
<rect x="256" y="708" width="10" height="10" fill="#C5192D"/><text class="hd" x="261" y="714.4" font-size="3.5">4</text><text class="lg" x="269" y="714.3">Quality Education</text>
<rect x="309" y="708" width="10" height="10" fill="#FF3A21"/><text class="hd" x="314" y="714.4" font-size="3.5">5</text><text class="lg" x="322" y="714.3">Gender Equality</text>
<rect x="363" y="708" width="10" height="10" fill="#26BDE2"/><text class="hd" x="368" y="714.4" font-size="3.5">6</text><text class="lg" x="376" y="714.3">Clean Water</text>
<rect x="416" y="708" width="10" height="10" fill="#FCC30B"/><text class="hd" x="421" y="714.4" font-size="3.5">7</text><text class="lg" x="429" y="714.3">Affordable Energy</text>
<rect x="469" y="708" width="10" height="10" fill="#A21942"/><text class="hd" x="474" y="714.4" font-size="3.5">8</text><text class="lg" x="482" y="714.3">Decent Work</text>
</g>
</g>

<!-- ================= PANEL D ================= -->
<g id="panel-d">
<text x="831" y="502" text-anchor="middle" font-size="5.5" font-weight="bold" fill="#222">Research Characteristics by Megatrend</text>
<text class="st" x="659" y="519">Methodological Approach</text>
<text class="st" x="786" y="519">Spatial Scale</text>
<text class="st" x="913" y="519">Temporal Scale</text>
<text class="st" x="1041" y="519">Temporal Focus</text>

<g class="dl">
<text x="596" y="538.7">Digital &amp; Smart Cities</text><text x="596" y="566.7">Climate &amp; Environment</text><text x="596" y="594.7">Mobility &amp; Transportation</text>
<text x="596" y="622.7">Urban Development</text><text x="596" y="650.7">Social Equity &amp; QoL</text><text x="596" y="678.7">Resilience &amp; Safety</text>
</g>

<!-- S1 -->
<g class="sb">
<rect x="600" y="528" width="100.3" height="19" fill="#1565C0"/><rect x="700.3" y="528" width="16.5" height="19" fill="#42A5F5"/><rect x="716.8" y="528" width="1.2" height="19" fill="#BBDEFB"/>
<rect x="600" y="556" width="103.8" height="19" fill="#1565C0"/><rect x="703.8" y="556" width="13" height="19" fill="#42A5F5"/><rect x="716.8" y="556" width="1.2" height="19" fill="#BBDEFB"/>
<rect x="600" y="584" width="105" height="19" fill="#1565C0"/><rect x="705" y="584" width="11.8" height="19" fill="#42A5F5"/><rect x="716.8" y="584" width="1.2" height="19" fill="#BBDEFB"/>
<rect x="600" y="612" width="100.3" height="19" fill="#1565C0"/><rect x="700.3" y="612" width="15.3" height="19" fill="#42A5F5"/><rect x="715.6" y="612" width="2.4" height="19" fill="#BBDEFB"/>
<rect x="600" y="640" width="105" height="19" fill="#1565C0"/><rect x="705" y="640" width="9.5" height="19" fill="#42A5F5"/><rect x="714.5" y="640" width="3.5" height="19" fill="#BBDEFB"/>
<rect x="600" y="668" width="114.5" height="19" fill="#1565C0"/><rect x="714.5" y="668" width="2.3" height="19" fill="#42A5F5"/><rect x="716.8" y="668" width="1.2" height="19" fill="#BBDEFB"/>
</g>
<g class="pc">
<text x="650" y="538.8">85%</text><text x="708.5" y="538.8">14%</text><text x="652" y="566.8">88%</text><text x="652.5" y="594.8">89%</text>
<text x="650" y="622.8">85%</text><text x="708" y="622.8">13%</text><text x="652.5" y="650.8">89%</text><text x="657" y="678.8">97%</text>
</g>
<!-- S2 -->
<g class="sb">
<rect x="727" y="528" width="97.9" height="19" fill="#2E7D32"/><rect x="824.9" y="528" width="4.7" height="19" fill="#66BB6A"/><rect x="829.6" y="528" width="5.9" height="19" fill="#A5D6A7"/><rect x="835.5" y="528" width="4.7" height="19" fill="#C8E6C9"/><rect x="840.2" y="528" width="3.6" height="19" fill="#E8F5E9"/><rect x="843.8" y="528" width="1.2" height="19" fill="#F1F8E9"/>
<rect x="727" y="556" width="85" height="19" fill="#2E7D32"/><rect x="812" y="556" width="8.2" height="19" fill="#66BB6A"/><rect x="820.2" y="556" width="10.6" height="19" fill="#A5D6A7"/><rect x="830.8" y="556" width="9.4" height="19" fill="#C8E6C9"/><rect x="840.2" y="556" width="3.6" height="19" fill="#E8F5E9"/><rect x="843.8" y="556" width="1.2" height="19" fill="#F1F8E9"/>
<rect x="727" y="584" width="103.8" height="19" fill="#2E7D32"/><rect x="830.8" y="584" width="4.7" height="19" fill="#66BB6A"/><rect x="835.5" y="584" width="4.7" height="19" fill="#A5D6A7"/><rect x="840.2" y="584" width="2.4" height="19" fill="#C8E6C9"/><rect x="842.6" y="584" width="1.2" height="19" fill="#E8F5E9"/><rect x="843.8" y="584" width="1.2" height="19" fill="#F1F8E9"/>
<rect x="727" y="612" width="83.8" height="19" fill="#2E7D32"/><rect x="810.8" y="612" width="7.1" height="19" fill="#66BB6A"/><rect x="817.9" y="612" width="10.6" height="19" fill="#A5D6A7"/><rect x="828.5" y="612" width="9.4" height="19" fill="#C8E6C9"/><rect x="837.9" y="612" width="5.9" height="19" fill="#E8F5E9"/><rect x="843.8" y="612" width="1.2" height="19" fill="#F1F8E9"/>
<rect x="727" y="640" width="87.3" height="19" fill="#2E7D32"/><rect x="814.3" y="640" width="8.3" height="19" fill="#66BB6A"/><rect x="822.6" y="640" width="10.6" height="19" fill="#A5D6A7"/><rect x="833.2" y="640" width="8.3" height="19" fill="#C8E6C9"/><rect x="841.5" y="640" width="2.3" height="19" fill="#E8F5E9"/><rect x="843.8" y="640" width="1.2" height="19" fill="#F1F8E9"/>
<rect x="727" y="668" width="103.8" height="19" fill="#2E7D32"/><rect x="830.8" y="668" width="4.7" height="19" fill="#66BB6A"/><rect x="835.5" y="668" width="4.7" height="19" fill="#A5D6A7"/><rect x="840.2" y="668" width="2.4" height="19" fill="#C8E6C9"/><rect x="842.6" y="668" width="1.2" height="19" fill="#E8F5E9"/><rect x="843.8" y="668" width="1.2" height="19" fill="#F1F8E9"/>
</g>
<g class="pc">
<text x="776" y="538.8">83%</text><text x="769.5" y="566.8">72%</text><text x="779" y="594.8">88%</text>
<text x="769" y="622.8">71%</text><text x="770.7" y="650.8">74%</text><text x="779" y="678.8">88%</text>
</g>
<!-- S3 -->
<g class="sb">
<rect x="854" y="528" width="83.8" height="19" fill="#E65100"/><rect x="937.8" y="528" width="27.1" height="19" fill="#FF9800"/><rect x="964.9" y="528" width="7.1" height="19" fill="#FFE0B2"/>
<rect x="854" y="556" width="74.3" height="19" fill="#E65100"/><rect x="928.3" y="556" width="29.5" height="19" fill="#FF9800"/><rect x="957.8" y="556" width="14.2" height="19" fill="#FFE0B2"/>
<rect x="854" y="584" width="79.1" height="19" fill="#E65100"/><rect x="933.1" y="584" width="33" height="19" fill="#FF9800"/><rect x="966.1" y="584" width="5.9" height="19" fill="#FFE0B2"/>
<rect x="854" y="612" width="92" height="19" fill="#E65100"/><rect x="946" y="612" width="16.5" height="19" fill="#FF9800"/><rect x="962.5" y="612" width="9.5" height="19" fill="#FFE0B2"/>
<rect x="854" y="640" width="67.3" height="19" fill="#E65100"/><rect x="921.3" y="640" width="31.8" height="19" fill="#FF9800"/><rect x="953.1" y="640" width="18.9" height="19" fill="#FFE0B2"/>
<rect x="854" y="668" width="87.3" height="19" fill="#E65100"/><rect x="941.3" y="668" width="20.1" height="19" fill="#FF9800"/><rect x="961.4" y="668" width="10.6" height="19" fill="#FFE0B2"/>
</g>
<g class="pc">
<text x="896" y="538.8">71%</text><text x="951.3" y="538.8">23%</text>
<text x="891.2" y="566.8">63%</text><text x="943" y="566.8">25%</text>
<text x="893.5" y="594.8">67%</text><text x="949.6" y="594.8">28%</text>
<text x="900" y="622.8">78%</text><text x="954.3" y="622.8">14%</text>
<text x="887.6" y="650.8">57%</text><text x="937.2" y="650.8">27%</text><text x="962.6" y="650.8" fill="#555">16%</text>
<text x="897.7" y="678.8">74%</text><text x="951.3" y="678.8">17%</text>
</g>
<!-- S4 -->
<g class="sb">
<rect x="982" y="528" width="90.9" height="19" fill="#6A1B9A"/><rect x="1072.9" y="528" width="27.1" height="19" fill="#BA68C8"/>
<rect x="982" y="556" width="77.9" height="19" fill="#6A1B9A"/><rect x="1059.9" y="556" width="40.1" height="19" fill="#BA68C8"/>
<rect x="982" y="584" width="95.6" height="19" fill="#6A1B9A"/><rect x="1077.6" y="584" width="22.4" height="19" fill="#BA68C8"/>
<rect x="982" y="612" width="94.4" height="19" fill="#6A1B9A"/><rect x="1076.4" y="612" width="23.6" height="19" fill="#BA68C8"/>
<rect x="982" y="640" width="70.8" height="19" fill="#6A1B9A"/><rect x="1052.8" y="640" width="47.2" height="19" fill="#BA68C8"/>
<rect x="982" y="668" width="92" height="19" fill="#6A1B9A"/><rect x="1074" y="668" width="26" height="19" fill="#BA68C8"/>
</g>
<g class="pc">
<text x="1027.4" y="538.8">77%</text><text x="1086.4" y="538.8">23%</text>
<text x="1021" y="566.8">66%</text><text x="1080" y="566.8">34%</text>
<text x="1029.8" y="594.8">81%</text><text x="1088.8" y="594.8">19%</text>
<text x="1029.2" y="622.8">80%</text><text x="1088.2" y="622.8">20%</text>
<text x="1017.4" y="650.8">60%</text><text x="1076.4" y="650.8">40%</text>
<text x="1028" y="678.8">78%</text><text x="1087" y="678.8">22%</text>
</g>

<!-- axes -->
<path class="ax" d="M600,523 V692 H719 M727,523 V692 H846 M854,523 V692 H973 M982,523 V692 H1101"/>
<path stroke="#444" stroke-width="0.5" d="M598,537.5 H600 M598,565.5 H600 M598,593.5 H600 M598,621.5 H600 M598,649.5 H600 M598,677.5 H600 M725,537.5 H727 M725,565.5 H727 M725,593.5 H727 M725,621.5 H727 M725,649.5 H727 M725,677.5 H727 M852,537.5 H854 M852,565.5 H854 M852,593.5 H854 M852,621.5 H854 M852,649.5 H854 M852,677.5 H854 M980,537.5 H982 M980,565.5 H982 M980,593.5 H982 M980,621.5 H982 M980,649.5 H982 M980,677.5 H982"/>
<g class="dt">
<text x="600" y="698">0</text><text x="623.6" y="698">20</text><text x="647.2" y="698">40</text><text x="670.8" y="698">60</text><text x="694.4" y="698">80</text><text x="718" y="698">100</text>
<text x="727" y="698">0</text><text x="750.6" y="698">20</text><text x="774.2" y="698">40</text><text x="797.8" y="698">60</text><text x="821.4" y="698">80</text><text x="845" y="698">100</text>
<text x="854" y="698">0</text><text x="877.6" y="698">20</text><text x="901.2" y="698">40</text><text x="924.8" y="698">60</text><text x="948.4" y="698">80</text><text x="972" y="698">100</text>
<text x="982" y="698">0</text><text x="1005.6" y="698">20</text><text x="1029.2" y="698">40</text><text x="1052.8" y="698">60</text><text x="1076.4" y="698">80</text><text x="1100" y="698">100</text>
<text x="659" y="703.5" font-size="3.8">Percentage</text><text x="786" y="703.5" font-size="3.8">Percentage</text><text x="913" y="703.5" font-size="3.8">Percentage</text><text x="1041" y="703.5" font-size="3.8">Percentage</text>
</g>
<!-- legends -->
<g class="lg" font-size="3.3">
<rect x="620" y="710" width="6" height="3.5" fill="#1565C0"/><text x="628" y="713.2">Quantitative</text>
<rect x="653" y="710" width="6" height="3.5" fill="#42A5F5"/><text x="661" y="713.2">Mixed</text>
<rect x="675" y="710" width="6" height="3.5" fill="#BBDEFB"/><text x="683" y="713.2">Qualitative</text>
<rect x="748" y="710" width="6" height="3.5" fill="#2E7D32"/><text x="756" y="713.2">Local</text>
<rect x="772" y="710" width="6" height="3.5" fill="#A5D6A7"/><text x="780" y="713.2">Regional</text>
<rect x="798" y="710" width="6" height="3.5" fill="#E8F5E9"/><text x="806" y="713.2">Individual</text>
<rect x="748" y="715" width="6" height="3" fill="#66BB6A"/><text x="756" y="718">Global</text>
<rect x="772" y="715" width="6" height="3" fill="#C8E6C9"/><text x="780" y="718">National</text>
<rect x="798" y="715" width="6" height="3" fill="#F1F8E9"/><text x="806" y="718">Supranational</text>
<rect x="881" y="710" width="6" height="3.5" fill="#E65100"/><text x="889" y="713.2">Present</text>
<rect x="907" y="710" width="6" height="3.5" fill="#FF9800"/><text x="915" y="713.2">Future</text>
<rect x="931" y="710" width="6" height="3.5" fill="#FFE0B2"/><text x="939" y="713.2">Past</text>
<rect x="1010" y="710" width="6" height="3.5" fill="#6A1B9A"/><text x="1018" y="713.2">Cross-sectional</text>
<rect x="1046" y="710" width="6" height="3.5" fill="#BA68C8"/><text x="1054" y="713.2">Longitudinal</text>
</g>
</g>
</svg>
